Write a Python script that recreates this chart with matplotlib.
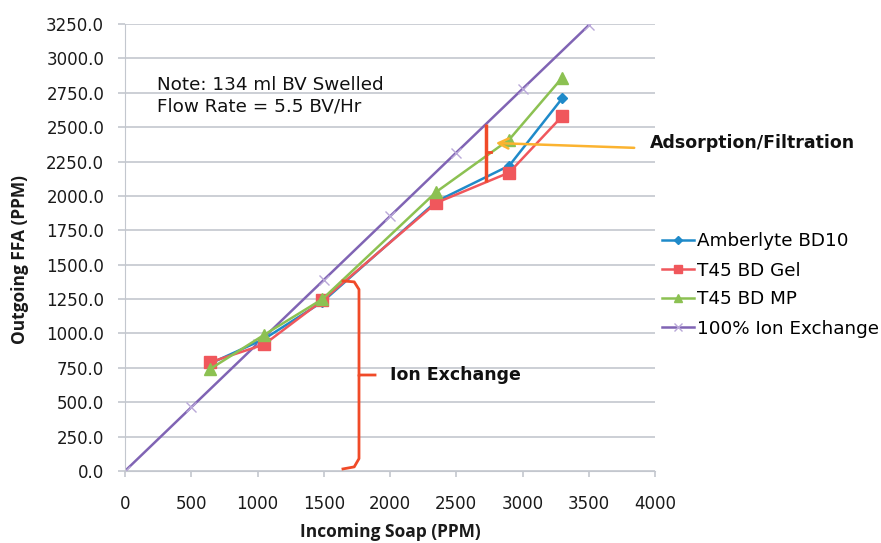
import matplotlib
matplotlib.use("Agg")
import matplotlib.pyplot as plt
from matplotlib.lines import Line2D

# Data
soap_x = [640, 1050, 1490, 2350, 2900, 3300]
amberlyte = [780, 960, 1230, 1960, 2220, 2710]
t45_gel = [790, 920, 1240, 1950, 2170, 2580]
t45_mp = [740, 990, 1250, 2030, 2410, 2860]
ion_x = [0, 500, 1000, 1500, 2000, 2500, 3000, 3500]
ion_y = [0, 463, 926, 1389, 1852, 2315, 2778, 3241]
series_names = ["Amberlyte BD10", "T45 BD Gel", "T45 BD MP", "100% Ion Exchange"]
y_ticks = [0, 250, 500, 750, 1000, 1250, 1500, 1750, 2000, 2250, 2500, 2750, 3000, 3250]
x_ticks = [0, 500, 1000, 1500, 2000, 2500, 3000, 3500, 4000]

plt.rcParams['font.family'] = ['DejaVu Sans']

W, H = 881, 543
fig = plt.figure(figsize=(W / 100, H / 100), dpi=100)
ax = fig.add_axes([125 / W, (H - 471) / H, (655 - 125) / W, (471 - 24) / H])

blue = '#1f8ac9'
red = '#f0575c'
green = '#8cc152'
purple = '#8064b4'
gridc = '#c3c7ce'

ax.plot(ion_x, ion_y, color=purple, lw=1.8, marker='x', ms=7, mew=1, mec='#b9a8d8', label=series_names[3], zorder=2)
ax.plot(soap_x, amberlyte, color=blue, lw=1.8, marker='D', ms=5, label=series_names[0], zorder=3)
ax.plot(soap_x, t45_gel, color=red, lw=1.8, marker='s', ms=8, label=series_names[1], zorder=3)
ax.plot(soap_x, t45_mp, color=green, lw=1.8, marker='^', ms=8, label=series_names[2], zorder=4)

ax.set_xlim(0, 4000)
ax.set_ylim(0, 3250)
ax.set_xticks(x_ticks)
ax.set_yticks(y_ticks)
ax.set_yticklabels([f"{v:.1f}" for v in y_ticks])
ax.grid(axis='y', color=gridc, lw=1.2)
ax.set_axisbelow(True)
for s in ['top', 'right']:
    ax.spines[s].set_visible(False)
ax.spines['bottom'].set_color(gridc)
ax.spines['left'].set_color(gridc)
ax.tick_params(axis='both', labelsize=12, color=gridc, labelcolor='#1a1a1a', width=1.2)
ax.tick_params(axis='x', length=4, pad=13)
ax.tick_params(axis='y', length=5, pad=10)

fig.text(390 / W, 1 - 532 / H, "Incoming Soap (PPM)", fontsize=12.5, fontweight='bold',
         family='Open Sans', ha='center', va='center', color='#1a1a1a')
fig.text(20 / W, 1 - 260 / H, "Outgoing FFA (PPM)", fontsize=12.5, fontweight='bold',
         family='Open Sans', ha='center', va='center', rotation=90, color='#1a1a1a')

# Note
ax.text(240, 2731, "Note: 134 ml BV Swelled\nFlow Rate = 5.5 BV/Hr", fontsize=13.2,
        va='center', ha='left', linespacing=1.25, color='#111111')

# Red bracket for adsorption
ax.plot([2725, 2725], [2102, 2524], color='#f04a28', lw=2.5, zorder=5, solid_capstyle='butt')
ax.plot([2725, 2762], [2320, 2320], color='#f04a28', lw=2, zorder=5)

# Orange arrow
ax.annotate("", xy=(2777, 2385), xytext=(3864, 2349),
            arrowprops=dict(arrowstyle='->', color='#fbb330', lw=1.8, mutation_scale=18),
            annotation_clip=False, zorder=6)
fig.text(650 / W, 1 - 143 / H, "Adsorption/Filtration", fontsize=12.5, fontweight='bold',
         va='center', ha='left', color='#111111')

# Ion exchange brace
ax.plot([1645, 1730, 1766, 1766, 1887], [15, 30, 90, 698, 698], color='#f04a28', lw=2, zorder=5)
ax.plot([1645, 1730, 1766, 1766], [1382, 1375, 1320, 698], color='#f04a28', lw=2, zorder=5)
ax.text(2000, 698, "Ion Exchange", fontsize=12.5, fontweight='bold', va='center', ha='left', color='#111111')

handles = [Line2D([], [], color=blue, lw=1.8, marker='D', ms=4),
           Line2D([], [], color=red, lw=1.8, marker='s', ms=6),
           Line2D([], [], color=green, lw=1.8, marker='^', ms=6),
           Line2D([], [], color=purple, lw=1.8, marker='x', ms=6, mec='#b9a8d8')]
fig.legend(handles, series_names, loc='center left', bbox_to_anchor=(662 / W, 1 - 285 / H),
           frameon=False, fontsize=13.2, handlelength=1.75, handletextpad=0.15, labelspacing=0.6,
           borderpad=0, borderaxespad=0)

fig.savefig("out.png", dpi=100)
